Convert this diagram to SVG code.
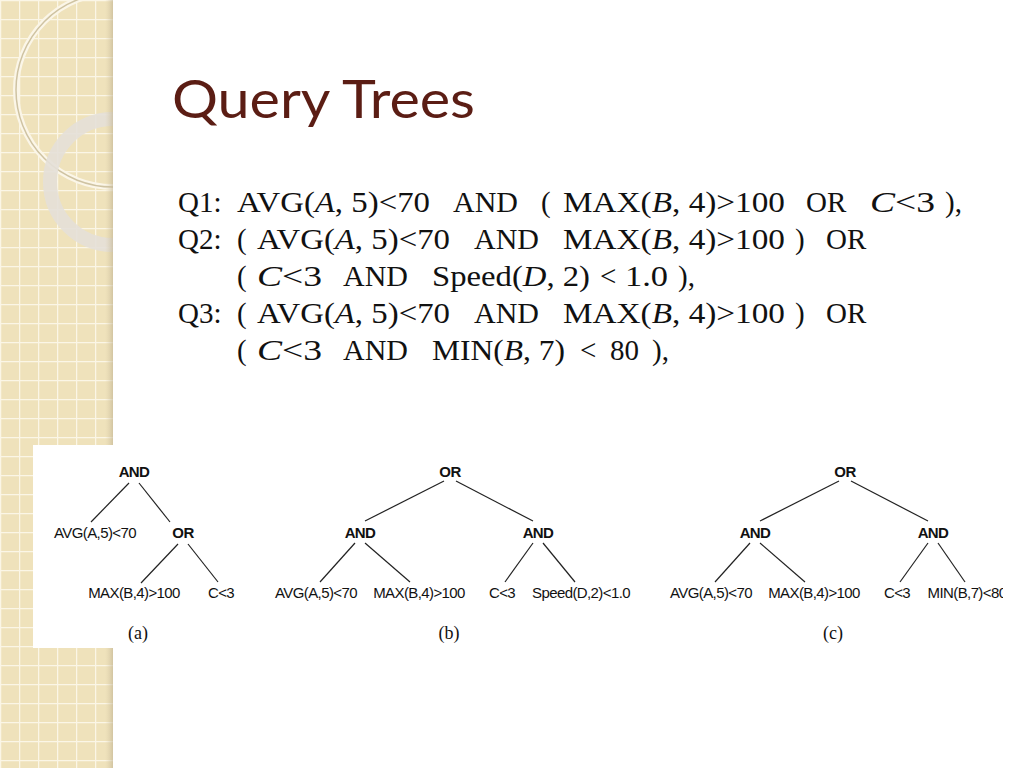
<svg xmlns="http://www.w3.org/2000/svg" width="1024" height="768" viewBox="0 0 1024 768">
<defs>
<pattern id="grid" width="19" height="19" patternUnits="userSpaceOnUse">
<rect width="19" height="19" fill="#efe2bb"/>
<path d="M0 0.5H19M0.5 0V19" stroke="#fbf6e6" stroke-width="1.5"/>
</pattern>
<linearGradient id="sh" x1="0" x2="1"><stop offset="0" stop-color="#d9ccaa" stop-opacity="0"/><stop offset="1" stop-color="#bfb190" stop-opacity="0.6"/></linearGradient>
<clipPath id="band"><rect width="113" height="768"/></clipPath>
</defs>
<style>
.t{font-family:"Liberation Serif",serif;font-size:29px;fill:#111}
.i{font-style:italic}
.n{font-family:"Liberation Sans",Arial,sans-serif;font-size:15px;fill:#111;text-anchor:middle;letter-spacing:-0.6px}
.b{font-weight:bold}
.c{font-family:"Liberation Serif",serif;font-size:18px;fill:#111;text-anchor:middle}
line{stroke:#222;stroke-width:1.2}
</style>
<rect width="1024" height="768" fill="#fff"/>
<rect width="113" height="768" fill="url(#grid)"/>
<g fill="none" clip-path="url(#band)">
<circle cx="113" cy="90" r="97" stroke="#fbf6e8" stroke-width="6"/>
<circle cx="113" cy="90" r="97" stroke="#cfc3a2" stroke-width="1.5"/>
<circle cx="113" cy="182" r="63" stroke="#e4e0d8" stroke-width="14" opacity="0.9"/>
</g>
<rect x="105" width="8" height="768" fill="url(#sh)"/>
<text x="172" y="118" font-family="Lato,'Open Sans',sans-serif" font-size="52" fill="#5b1d14" textLength="303" lengthAdjust="spacingAndGlyphs">Query Trees</text>
<g class="t">
<text y="212"><tspan x="178">Q1:</tspan><tspan x="237" textLength="193" lengthAdjust="spacingAndGlyphs">AVG(<tspan class="i">A</tspan>, 5)&lt;70</tspan><tspan x="453" textLength="65" lengthAdjust="spacingAndGlyphs">AND</tspan><tspan x="541">(</tspan><tspan x="563" textLength="222" lengthAdjust="spacingAndGlyphs">MAX(<tspan class="i">B</tspan>, 4)&gt;100</tspan><tspan x="806">OR</tspan><tspan x="870" textLength="65" lengthAdjust="spacingAndGlyphs"><tspan class="i">C</tspan>&lt;3</tspan><tspan x="945">),</tspan></text>
<text y="249"><tspan x="178">Q2:</tspan><tspan x="237">(</tspan><tspan x="257" textLength="193" lengthAdjust="spacingAndGlyphs">AVG(<tspan class="i">A</tspan>, 5)&lt;70</tspan><tspan x="474" textLength="65" lengthAdjust="spacingAndGlyphs">AND</tspan><tspan x="563" textLength="222" lengthAdjust="spacingAndGlyphs">MAX(<tspan class="i">B</tspan>, 4)&gt;100</tspan><tspan x="795">)</tspan><tspan x="826">OR</tspan></text>
<text y="286"><tspan x="237">(</tspan><tspan x="257" textLength="65" lengthAdjust="spacingAndGlyphs"><tspan class="i">C</tspan>&lt;3</tspan><tspan x="343" textLength="65" lengthAdjust="spacingAndGlyphs">AND</tspan><tspan x="432" textLength="158" lengthAdjust="spacingAndGlyphs">Speed(<tspan class="i">D</tspan>, 2)</tspan><tspan x="600">&lt;</tspan><tspan x="625" textLength="43" lengthAdjust="spacingAndGlyphs">1.0</tspan><tspan x="678">),</tspan></text>
<text y="323"><tspan x="178">Q3:</tspan><tspan x="237">(</tspan><tspan x="257" textLength="193" lengthAdjust="spacingAndGlyphs">AVG(<tspan class="i">A</tspan>, 5)&lt;70</tspan><tspan x="474" textLength="65" lengthAdjust="spacingAndGlyphs">AND</tspan><tspan x="563" textLength="222" lengthAdjust="spacingAndGlyphs">MAX(<tspan class="i">B</tspan>, 4)&gt;100</tspan><tspan x="795">)</tspan><tspan x="826">OR</tspan></text>
<text y="360"><tspan x="237">(</tspan><tspan x="257" textLength="65" lengthAdjust="spacingAndGlyphs"><tspan class="i">C</tspan>&lt;3</tspan><tspan x="343" textLength="65" lengthAdjust="spacingAndGlyphs">AND</tspan><tspan x="432" textLength="133" lengthAdjust="spacingAndGlyphs">MIN(<tspan class="i">B</tspan>, 7)</tspan><tspan x="580">&lt;</tspan><tspan x="610">80</tspan><tspan x="652">),</tspan></text>
</g>
<rect x="33" y="445" width="980" height="203" fill="#fff"/>
<rect x="1003" y="445" width="21" height="203" fill="#fff"/>
<g id="connectors">
<line x1="129" y1="483" x2="91" y2="522"/><line x1="139" y1="483" x2="170" y2="522"/>
<line x1="178" y1="544" x2="141" y2="583"/><line x1="188" y1="544" x2="218" y2="582"/>
<line x1="444" y1="481" x2="365" y2="521"/><line x1="456" y1="481" x2="533" y2="521"/>
<line x1="355" y1="543" x2="320" y2="582"/><line x1="365" y1="543" x2="410" y2="582"/>
<line x1="533" y1="543" x2="505" y2="582"/><line x1="543" y1="543" x2="575" y2="582"/>
<line x1="839" y1="481" x2="760" y2="521"/><line x1="851" y1="481" x2="928" y2="521"/>
<line x1="750" y1="543" x2="715" y2="582"/><line x1="760" y1="543" x2="805" y2="582"/>
<line x1="928" y1="543" x2="900" y2="582"/><line x1="938" y1="543" x2="965" y2="582"/>
</g>
<g id="a">
<text class="n b" x="134" y="477">AND</text>
<text class="n" x="95" y="538">AVG(A,5)&lt;70</text>
<text class="n b" x="183" y="538">OR</text>
<text class="n" x="134" y="598">MAX(B,4)&gt;100</text>
<text class="n" x="221" y="598">C&lt;3</text>
<text class="c" x="138" y="639">(a)</text>
</g>
<g id="b">
<text class="n b" x="450" y="477">OR</text>
<text class="n b" x="360" y="538">AND</text>
<text class="n b" x="538" y="538">AND</text>
<text class="n" x="316" y="598">AVG(A,5)&lt;70</text>
<text class="n" x="419" y="598">MAX(B,4)&gt;100</text>
<text class="n" x="502" y="598">C&lt;3</text>
<text class="n" x="581" y="598">Speed(D,2)&lt;1.0</text>
<text class="c" x="449" y="639">(b)</text>
</g>
<g id="c">
<text class="n b" x="845" y="477">OR</text>
<text class="n b" x="755" y="538">AND</text>
<text class="n b" x="933" y="538">AND</text>
<text class="n" x="711" y="598">AVG(A,5)&lt;70</text>
<text class="n" x="814" y="598">MAX(B,4)&gt;100</text>
<text class="n" x="897" y="598">C&lt;3</text>
<text class="n" x="967" y="598">MIN(B,7)&lt;80</text>
<rect x="1003" y="580" width="21" height="25" fill="#fff"/>
<text class="c" x="833" y="639">(c)</text>
</g>
</svg>
